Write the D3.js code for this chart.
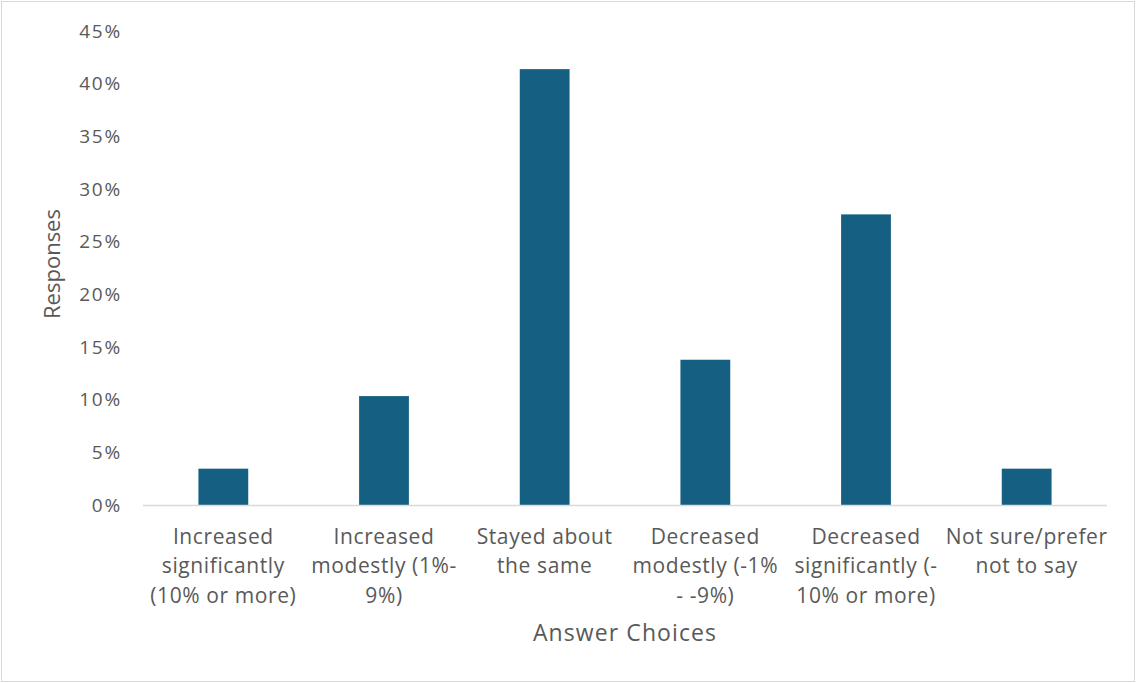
<!DOCTYPE html>
<html><head><meta charset="utf-8">
<script src="https://cdn.jsdelivr.net/npm/d3@7"></script>
<style>body{margin:0;background:#fff}svg{display:block}</style>
</head><body>
<svg id="c" width="1136" height="683"></svg>
<script>
const categories = [
  ["Increased", "significantly", "(10% or more)"],
  ["Increased", "modestly (1%-", "9%)"],
  ["Stayed about", "the same"],
  ["Decreased", "modestly (-1%", "- -9%)"],
  ["Decreased", "significantly (-", "10% or more)"],
  ["Not sure/prefer", "not to say"]
];
const values = [0.0345, 0.1034, 0.4138, 0.1379, 0.2759, 0.0345];
const yTicks = [0, 0.05, 0.10, 0.15, 0.20, 0.25, 0.30, 0.35, 0.40, 0.45];
const xTitle = "Answer Choices";
const yTitle = "Responses";

const svg = d3.select("#c");
const W = 1136, H = 683;
const m = {left: 143, right: 29, top: 31, bottom: 178};
const font = "'Open Sans', 'Liberation Sans', sans-serif";
const txt = "#595959";

svg.append("rect").attr("x", 1.5).attr("y", 1.5).attr("width", W - 3).attr("height", H - 3)
  .attr("fill", "#fff").attr("stroke", "#d9d9d9").attr("stroke-width", 1);

const x = d3.scaleBand().domain(d3.range(categories.length))
  .range([m.left, W - m.right]).paddingInner(0.69).paddingOuter(0.345);
const y = d3.scaleLinear().domain([0, 0.45]).range([H - m.bottom, m.top]);

// bars
svg.append("g").selectAll("rect").data(values).join("rect")
  .attr("x", (d, i) => x(i)).attr("width", x.bandwidth())
  .attr("y", d => y(d)).attr("height", d => y(0) - y(d))
  .attr("fill", "#156082");

// y axis
const ya = svg.append("g").attr("transform", `translate(${m.left},0)`)
  .call(d3.axisLeft(y).tickValues(yTicks).tickFormat(d3.format(".0%")).tickSize(0).tickPadding(21));
ya.select(".domain").remove();
ya.selectAll("text").attr("font-family", font).attr("font-size", 19)
  .attr("letter-spacing", 1.8).attr("fill", txt);

// x baseline
svg.append("line").attr("x1", m.left).attr("x2", W - m.right)
  .attr("y1", y(0) + 0.5).attr("y2", y(0) + 0.5).attr("stroke", "#d9d9d9").attr("stroke-width", 1.5);

// x axis labels
const xa = svg.append("g").attr("transform", `translate(0,${y(0)})`)
  .call(d3.axisBottom(x).tickSize(0).tickFormat(""));
xa.select(".domain").remove();
xa.selectAll(".tick").each(function(d) {
  const t = d3.select(this).append("text")
    .attr("text-anchor", "middle").attr("font-family", font).attr("font-size", 21)
    .attr("letter-spacing", 0.6).attr("fill", txt).attr("y", 39);
  categories[d].forEach((line, k) => {
    t.append("tspan").attr("x", 0).attr("dy", k === 0 ? 0 : 29.3).text(line);
  });
});

// titles
svg.append("text").attr("x", 625).attr("y", 641)
  .attr("text-anchor", "middle").attr("font-family", font).attr("font-size", 23)
  .attr("letter-spacing", 1.1).attr("fill", txt).text(xTitle);
svg.append("text").attr("transform", `translate(60,264) rotate(-90)`)
  .attr("text-anchor", "middle").attr("font-family", font).attr("font-size", 22)
  .attr("fill", txt).text(yTitle);
</script>
</body></html>
